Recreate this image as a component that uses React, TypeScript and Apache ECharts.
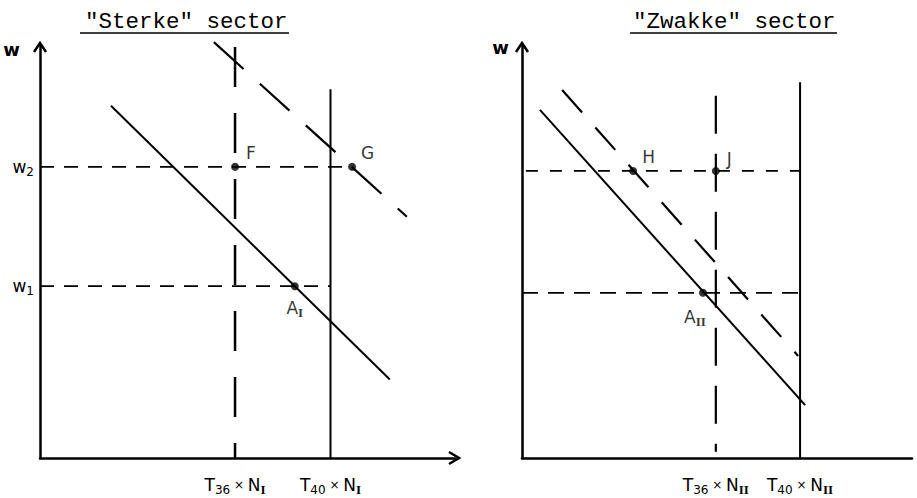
import React, { useEffect, useRef } from "react";
import * as echarts from "echarts";

// ---- Data (abstract units: x 0-100, y 0-100 per panel) ----
const titles = ['"Sterke" sector', '"Zwakke" sector'];

// Left panel ("Sterke")
const leftXTicks = [47, 70];
const leftXTickLabels = ["{m|T}{s|36}{x| × }{m|N}{r|I}", "{m|T}{s|40}{x| × }{m|N}{r|I}"];
const leftYTicks = [41.6, 70.5];
const leftYTickLabels = ["{m|w}{s|1}", "{m|w}{s|2}"];
const leftDemand = [[17.1, 85.3], [84.3, 19.0]];
const leftDemandNew = [[41.9, 100.7], [88.4, 58.4]];
const leftT36 = [[47, 99.5], [47, 0]];
const leftT40 = [[70, 89.3], [70, 0]];
const leftW2 = [[0, 70.5], [75.2, 70.5]];
const leftW1 = [[0, 41.6], [70, 41.6]];
const leftPoints = [
  { name: "F", value: [47, 70.5], pos: "F" },
  { name: "G", value: [75.2, 70.5], pos: "G" },
  { name: "A", value: [61.4, 41.6], pos: "A" },
];

// Right panel ("Zwakke")
const rightXTicks = [49.7, 71.3];
const rightXTickLabels = ["{m|T}{s|36}{x| × }{m|N}{r|II}", "{m|T}{s|40}{x| × }{m|N}{r|II}"];
const rightDemand = [[4.6, 84.3], [72.6, 12.8]];
const rightDemandNew = [[10.3, 89.1], [70.8, 24.7]];
const rightT36 = [[49.7, 87.7], [49.7, 1.5]];
const rightT40 = [[71.3, 91], [71.3, 0]];
const rightWHigh = [[1, 69.5], [71.3, 69.5]];
const rightWLow = [[0, 40], [71.3, 40]];
const rightPoints = [
  { name: "H", value: [28.5, 69.5], pos: "H" },
  { name: "J", value: [49.7, 69.5], pos: "J" },
  { name: "A", value: [46.4, 40.0], pos: "A2" },
];

const INK = "#000";
const HAND = "DejaVu Sans";

const rich = {
  m: { fontFamily: HAND, fontSize: 17, color: INK, lineHeight: 22, verticalAlign: "middle" },
  x: { fontFamily: HAND, fontSize: 12, color: INK, lineHeight: 22, verticalAlign: "middle" },
  s: { fontFamily: HAND, fontSize: 12, color: INK, lineHeight: 22, verticalAlign: "bottom" },
  r: { fontFamily: "Liberation Serif", fontSize: 13, fontWeight: "bold", color: INK, lineHeight: 22, verticalAlign: "bottom" },
};

function lineSeries(idx: number, data: number[][], width: number, dash?: number[]) {
  return {
    type: "line",
    xAxisIndex: idx,
    yAxisIndex: idx,
    data,
    showSymbol: false,
    clip: false,
    silent: true,
    lineStyle: { color: INK, width, type: dash ? dash : "solid" },
  };
}

const labelOffsets: Record<string, any> = {
  F: { position: "right", offset: [2, -14], text: "F" },
  G: { position: "right", offset: [0, -14], text: "G" },
  A: { position: "bottom", offset: [0, 2], text: "{m|A}{r|I}" },
  H: { position: "right", offset: [0, -14], text: "H" },
  J: { position: "right", offset: [2, -12], text: "J" },
  A2: { position: "bottom", offset: [-8, 4], text: "{m|A}{r|II}" },
};

function pointSeries(idx: number, pts: { name: string; value: number[]; pos: string }[]) {
  return {
    type: "scatter",
    xAxisIndex: idx,
    yAxisIndex: idx,
    symbolSize: 8,
    itemStyle: { color: INK },
    data: pts.map((p) => {
      const o = labelOffsets[p.pos];
      return {
        name: p.name,
        value: p.value,
        label: {
          show: true,
          position: o.position,
          offset: o.offset,
          formatter: o.text,
          fontFamily: HAND,
          fontSize: 17,
          color: INK,
          rich,
        },
      };
    }),
  };
}

export default function App() {
  const ref = useRef<HTMLDivElement>(null);
  useEffect(() => {
    if (!ref.current) return;
    const chart = echarts.init(ref.current, undefined, { renderer: "svg" });
    const axisLine = { show: true, lineStyle: { color: INK, width: 2.5 } };
    const titleStyle = { fontFamily: "Liberation Mono", fontSize: 22.5, fontWeight: "normal", color: INK };
    const option: any = {
      animation: false,
      backgroundColor: "#fff",
      title: [
        { text: titles[0], left: 80, top: 5, textStyle: titleStyle },
        { text: titles[1], left: 628, top: 5, textStyle: titleStyle },
      ],
      grid: [
        { left: 40, top: 45, width: 415, height: 413, containLabel: false, outerBoundsMode: "none" },
        { left: 522, top: 45, width: 390, height: 413, containLabel: false, outerBoundsMode: "none" },
      ],
      xAxis: [
        {
          type: "value",
          gridIndex: 0,
          min: 0,
          max: 100,
          axisLine,
          axisTick: { show: false },
          splitLine: { show: false },
          axisLabel: {
            customValues: leftXTicks,
            margin: 16,
            formatter: (v: number) => leftXTickLabels[leftXTicks.indexOf(v)] ?? "",
            rich,
          },
        },
        {
          type: "value",
          gridIndex: 1,
          min: 0,
          max: 100,
          axisLine,
          axisTick: { show: false },
          splitLine: { show: false },
          axisLabel: {
            customValues: rightXTicks,
            margin: 16,
            formatter: (v: number) => rightXTickLabels[rightXTicks.indexOf(v)] ?? "",
            rich,
          },
        },
      ],
      yAxis: [
        {
          type: "value",
          gridIndex: 0,
          min: 0,
          max: 100,
          axisLine,
          axisTick: { show: false },
          splitLine: { show: false },
          name: "w",
          nameLocation: "end",
          nameGap: -4,
          nameTextStyle: { fontFamily: HAND, fontSize: 18, fontWeight: "bold", color: INK, align: "right", verticalAlign: "middle", padding: [0, 20, 0, 0] },
          axisLabel: {
            customValues: leftYTicks,
            margin: 6,
            formatter: (v: number) => leftYTickLabels[leftYTicks.indexOf(v)] ?? "",
            rich,
          },
        },
        {
          type: "value",
          gridIndex: 1,
          min: 0,
          max: 100,
          axisLine,
          axisTick: { show: false },
          splitLine: { show: false },
          name: "w",
          nameLocation: "end",
          nameGap: -2,
          nameTextStyle: { fontFamily: HAND, fontSize: 18, fontWeight: "bold", color: INK, align: "right", verticalAlign: "middle", padding: [0, 13, 0, 0] },
          axisLabel: { show: false },
        },
      ],
      series: [
        lineSeries(0, leftT36, 2.5, [40, 26]),
        lineSeries(0, leftT40, 2),
        lineSeries(0, leftW2, 1.8, [14, 10]),
        lineSeries(0, leftW1, 1.8, [14, 10]),
        lineSeries(0, leftDemand, 2),
        lineSeries(0, leftDemandNew, 2.2, [40, 22]),
        pointSeries(0, leftPoints),
        lineSeries(1, rightT36, 2.2, [38, 20]),
        lineSeries(1, rightT40, 2),
        lineSeries(1, rightWHigh, 1.8, [12, 12]),
        lineSeries(1, rightWLow, 1.8, [16, 10]),
        lineSeries(1, rightDemand, 2),
        lineSeries(1, rightDemandNew, 2.2, [30, 20]),
        pointSeries(1, rightPoints),
      ],
      graphic: [
        { type: "line", shape: { x1: 80, y1: 33, x2: 289, y2: 33 }, style: { stroke: INK, lineWidth: 1.5 } },
        { type: "line", shape: { x1: 630, y1: 33, x2: 837, y2: 33 }, style: { stroke: INK, lineWidth: 1.5 } },
        { type: "polyline", shape: { points: [[34, 52], [40, 43], [46, 52]] }, style: { stroke: INK, lineWidth: 2.5, fill: null } },
        { type: "polyline", shape: { points: [[516, 52], [522, 43], [528, 52]] }, style: { stroke: INK, lineWidth: 2.5, fill: null } },
        { type: "polyline", shape: { points: [[449, 452], [459, 458], [449, 464]] }, style: { stroke: INK, lineWidth: 2.5, fill: null } },
      ],
    };
    chart.setOption(option);
    return () => chart.dispose();
  }, []);
  return <div ref={ref} style={{ width: 917, height: 498, position: "fixed", left: 0, top: 0 }} />;
}
